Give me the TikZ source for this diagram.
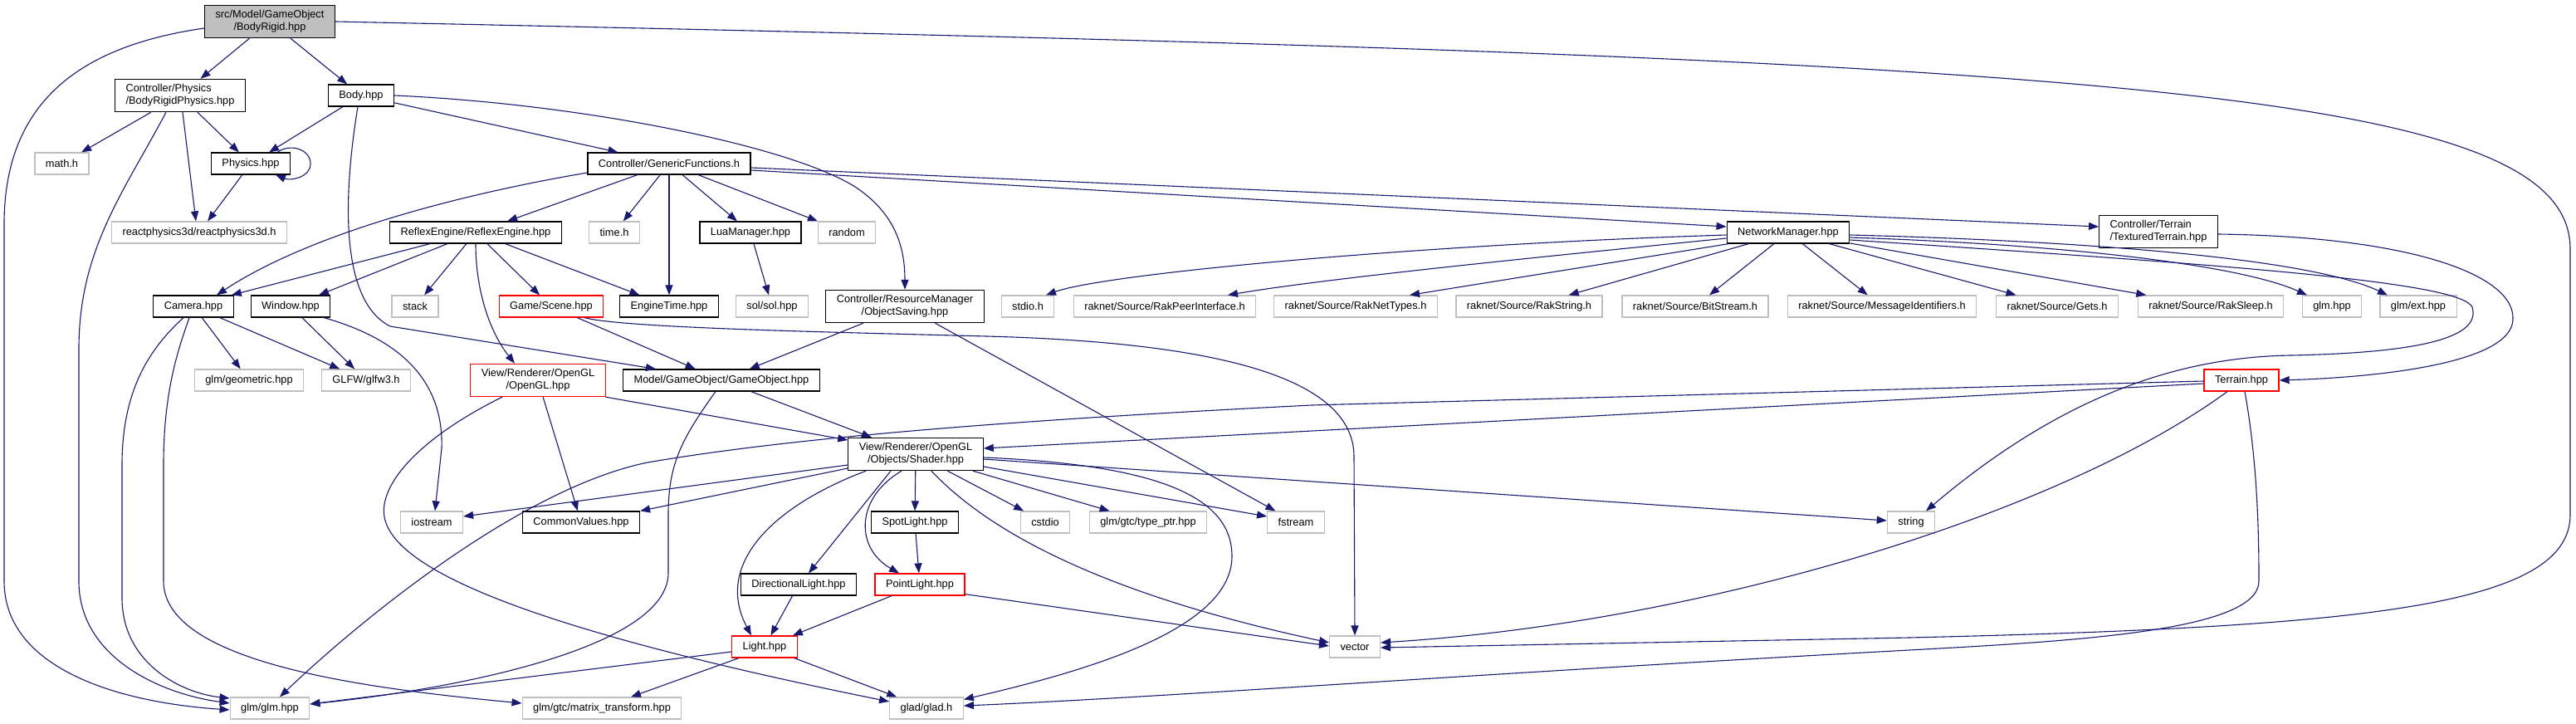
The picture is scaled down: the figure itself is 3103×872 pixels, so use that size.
\documentclass[tikz,border=0pt]{standalone}
\usepackage{fontspec}
\setsansfont{Liberation Sans}
\usepackage{xcolor}
\usepackage{tikz}
\usetikzlibrary{arrows.meta,positioning,calc}
\definecolor{navy}{HTML}{191970}
\definecolor{grey}{HTML}{BFBFBF}
\definecolor{cutred}{HTML}{FF0000}

\begin{document}
\begin{tikzpicture}[
  x=1pt,y=-1pt,
  every node/.style={font={\sffamily\fontsize{12.8}{15.3}\selectfont},align=center,inner xsep=13pt,inner ysep=6pt,minimum height=26pt,line width=1.2pt},
  hdr/.style={draw=black,fill=white},
  sys/.style={draw=grey,fill=white},
  cut/.style={draw=cutred,fill=white},
  top/.style={draw=black,fill=grey},
  arrow/.style={-{Triangle[length=12pt,width=9pt]},draw=navy,line width=1.1pt}
]
\fill[white] (0,0) rectangle (3103,872);
\useasboundingbox (0,0) rectangle (3103,872);

% rows of the include graph
\node[top] (root) at (325,26) {src/Model/GameObject\\/BodyRigid.hpp};
\node[hdr,align=left] (rbphys) at (217,115) {Controller/Physics\\/BodyRigidPhysics.hpp};
\node[hdr] (body) at (435,115) {Body.hpp};
\node[sys] (math) at (74.5,197) {math.h};
\node[hdr] (physics) at (302,197) {Physics.hpp};
\node[hdr] (generic) at (806,197) {Controller/GenericFunctions.h};
\node[sys] (react) at (240,280) {reactphysics3d/reactphysics3d.h};
\node[hdr] (reflex) at (573,280) {ReflexEngine/ReflexEngine.hpp};
\node[sys] (timeh) at (740,280) {time.h};
\node[hdr] (lua) at (904,280) {LuaManager.hpp};
\node[sys] (random) at (1020,280) {random};
\node[hdr] (netman) at (2154,280) {NetworkManager.hpp};
\node[hdr,align=left] (texterr) at (2600,279) {Controller/Terrain\\/TexturedTerrain.hpp};
\node[hdr] (camera) at (233,369) {Camera.hpp};
\node[hdr] (window) at (350,369) {Window.hpp};
\node[sys] (stack) at (500,369) {stack};
\node[cut] (scene) at (664,369) {Game/Scene.hpp};
\node[hdr] (enginetime) at (806,369) {EngineTime.hpp};
\node[sys] (sol) at (930,369) {sol/sol.hpp};
\node[hdr] (objsave) at (1090,369) {Controller/ResourceManager\\/ObjectSaving.hpp};
\node[sys] (stdio) at (1238,369) {stdio.h};
\node[sys] (rakpeer) at (1403,369) {raknet/Source/RakPeerInterface.h};
\node[sys] (raktypes) at (1633,369) {raknet/Source/RakNetTypes.h};
\node[sys] (rakstring) at (1842,369) {raknet/Source/RakString.h};
\node[sys] (bitstream) at (2042,369) {raknet/Source/BitStream.h};
\node[sys] (msgid) at (2267,369) {raknet/Source/MessageIdentifiers.h};
\node[sys] (gets) at (2478,369) {raknet/Source/Gets.h};
\node[sys] (raksleep) at (2663,369) {raknet/Source/RakSleep.h};
\node[sys] (glmhpp) at (2809,369) {glm.hpp};
\node[sys] (glmext) at (2913,369) {glm/ext.hpp};
\node[sys] (geometric) at (300,458) {glm/geometric.hpp};
\node[sys] (glfw) at (441,458) {GLFW/glfw3.h};
\node[cut] (opengl) at (648,458) {View/Renderer/OpenGL\\/OpenGL.hpp};
\node[hdr] (gameobj) at (869,458) {Model/GameObject/GameObject.hpp};
\node[cut] (terrain) at (2700,458) {Terrain.hpp};
\node[hdr] (shader) at (1103,547) {View/Renderer/OpenGL\\/Objects/Shader.hpp};
\node[sys] (iostream) at (520,629) {iostream};
\node[hdr] (common) at (700,629) {CommonValues.hpp};
\node[hdr] (spot) at (1102,629) {SpotLight.hpp};
\node[sys] (cstdio) at (1259,629) {cstdio};
\node[sys] (typeptr) at (1383,629) {glm/gtc/type\_ptr.hpp};
\node[sys] (fstream) at (1561,629) {fstream};
\node[sys] (string) at (2302,629) {string};
\node[hdr] (dirlight) at (962,704) {DirectionalLight.hpp};
\node[cut] (pointlight) at (1108,704) {PointLight.hpp};
\node[cut] (light) at (921,779) {Light.hpp};
\node[sys] (vector) at (1632,779) {vector};
\node[sys] (glm) at (325,853) {glm/glm.hpp};
\node[sys] (matrix) at (725,853) {glm/gtc/matrix\_transform.hpp};
\node[sys] (glad) at (1116,853) {glad/glad.h};

% root
\draw[arrow] (root) -- (rbphys); \draw[arrow] (root) -- (body);
\draw[arrow] ([yshift=-8pt]root.west) .. controls (100,55) and (5,120) .. (5,270) -- (5,700) .. controls (5,800) and (130,845) .. ([yshift=-2pt]glm.west);
\draw[arrow] (root.east) .. controls (2500,70) and (3096,100) .. (3096,300) -- (3096,620) .. controls (3096,730) and (2850,755) .. (2300,768) -- ([yshift=-1pt]vector.east);

% physics side
\draw[arrow] (rbphys) -- (math); \draw[arrow] (rbphys) -- (physics);
\draw[arrow] ([xshift=3pt]rbphys.south) -- ([xshift=-4pt]react.north);
\draw[arrow] ([xshift=-17pt]rbphys.south) .. controls (150,230) and (95,300) .. (95,420) -- (95,700) .. controls (95,790) and (190,835) .. ([yshift=6pt]glm.west);
\draw[arrow] ([xshift=32pt]physics.north) .. controls (350,172) and (374,180) .. (374,197) .. controls (374,214) and (350,218) .. ([xshift=30pt]physics.south);
\draw[arrow] (physics) -- (react);

% body
\draw[arrow] (body) -- (physics); \draw[arrow] (body) -- (generic);
\draw[arrow] (body.east) .. controls (700,125) and (950,175) .. (1030,225) .. controls (1080,258) and (1090,300) .. (objsave.north);
\draw[arrow] ([xshift=-4pt]body.south) .. controls (416,220) and (405,360) .. (470,393) -- ([xshift=-79pt]gameobj.north);

% generic functions
\draw[arrow] ([yshift=-11pt]generic.west) .. controls (520,240) and (360,290) .. ([xshift=28pt]camera.north);
\draw[arrow] (generic) -- (reflex); \draw[arrow] (generic) -- (timeh); \draw[arrow] (generic) -- (enginetime);
\draw[arrow] (generic) -- (lua); \draw[arrow] (generic) -- (random);
\draw[arrow] ([yshift=-8pt]generic.east) -- ([yshift=7pt]netman.west);
\draw[arrow] ([yshift=-5pt]generic.east) -- ([yshift=6pt]texterr.west);

% reflex engine
\draw[arrow] ([xshift=-55pt]reflex.south) -- ([xshift=-3pt]camera.north east);
\draw[arrow] (reflex) -- (window); \draw[arrow] (reflex) -- (stack);
\draw[arrow] (reflex) -- (scene); \draw[arrow] (reflex) -- (enginetime);
\draw[arrow] (reflex.south) .. controls (573,350) and (590,400) .. ([xshift=-28pt]opengl.north);
\draw[arrow] (lua) -- (sol);

% network manager
\draw[arrow] ([yshift=-3pt]netman.west) .. controls (1700,295) and (1330,330) .. ([xshift=22pt]stdio.north);
\draw[arrow] ([yshift=-7pt]netman.west) .. controls (1850,310) and (1600,335) .. ([xshift=76pt]rakpeer.north);
\draw[arrow] ([xshift=3pt]netman.south west) -- ([xshift=65pt]raktypes.north);
\draw[arrow] (netman) -- (rakstring); \draw[arrow] (netman) -- (bitstream);
\draw[arrow] (netman) -- (msgid); \draw[arrow] (netman) -- (gets); \draw[arrow] (netman) -- (raksleep);
\draw[arrow] ([yshift=-6pt]netman.east) .. controls (2500,295) and (2700,320) .. ([xshift=-30pt]glmhpp.north);
\draw[arrow] ([yshift=-3pt]netman.east) .. controls (2500,290) and (2780,310) .. ([xshift=-37pt]glmext.north);
\draw[arrow] ([yshift=-9pt]netman.east) .. controls (2700,320) and (2965,340) .. (2978,370) .. controls (2990,410) and (2900,425) .. (2760,428) .. controls (2620,430) and (2480,480) .. ([xshift=18pt]string.north);
\draw[arrow] ([yshift=-3pt]texterr.east) .. controls (2900,285) and (3030,330) .. (3027,385) .. controls (3025,440) and (2850,455) .. (terrain.east);

% camera, window, scene
\draw[arrow] ([xshift=-12pt]camera.south) .. controls (180,420) and (147,470) .. (147,560) -- (147,720) .. controls (147,800) and (220,835) .. ([yshift=12pt]glm.west);
\draw[arrow] ([xshift=-5pt]camera.south) .. controls (215,420) and (197,470) .. (197,560) -- (197,700) .. controls (197,800) and (450,830) .. ([yshift=6pt]matrix.west);
\draw[arrow] (camera) -- (geometric); \draw[arrow] (camera) -- (glfw);
\draw[arrow] (window) -- (glfw);
\draw[arrow] ([xshift=40pt]window.south) .. controls (470,405) and (535,450) .. (532,540) -- ([xshift=4pt]iostream.north);
\draw[arrow] (scene) -- (gameobj);
\draw[arrow] ([xshift=40pt]scene.south) .. controls (750,395) and (1000,400) .. (1188,405) .. controls (1450,412) and (1631,450) .. (1631,550) -- (vector.north);
\draw[arrow] (objsave) -- (gameobj); \draw[arrow] (objsave) -- (fstream);

% opengl and game object
\draw[arrow] (opengl.south east) -- ([yshift=17pt]shader.west);
\draw[arrow] (opengl) -- (common);
\draw[arrow] ([xshift=-43pt]opengl.south) .. controls (500,530) and (450,590) .. (465,630) .. controls (490,700) and (700,770) .. ([yshift=8pt]glad.west);
\draw[arrow] (gameobj) -- (shader);
\draw[arrow] ([xshift=-7pt]gameobj.south) .. controls (820,530) and (805,560) .. (805,620) -- (805,690) .. controls (805,780) and (550,830) .. ([yshift=5pt]glm.east);

% shader
\draw[arrow] ([yshift=-13pt]shader.west) -- ([yshift=7pt]iostream.east);
\draw[arrow] ([yshift=-17pt]shader.west) -- (common.north east);
\draw[arrow] ([xshift=-60pt]shader.south) .. controls (930,610) and (860,680) .. ([xshift=-16pt]light.north);
\draw[arrow] ([xshift=-30pt]shader.south) -- ([xshift=12pt]dirlight.north);
\draw[arrow] ([xshift=-17pt]shader.south) .. controls (1030,600) and (1030,660) .. ([xshift=-25pt]pointlight.north);
\draw[arrow] (shader) -- (spot);
\draw[arrow] ([xshift=19pt]shader.south) .. controls (1200,650) and (1350,720) .. ([yshift=5pt]vector.west);
\draw[arrow] (shader) -- (cstdio); \draw[arrow] (shader) -- (typeptr);
\draw[arrow] ([yshift=-15pt]shader.east) -- ([yshift=7pt]fstream.west);
\draw[arrow] ([yshift=-6pt]shader.east) -- ([yshift=2pt]string.west);
\draw[arrow] ([yshift=-4pt]shader.east) .. controls (1400,560) and (1484,600) .. (1484,670) .. controls (1484,760) and (1300,810) .. ([yshift=-3pt]glad.north east);

% lights
\draw[arrow] (spot) -- (pointlight);
\draw[arrow] (dirlight) -- (light); \draw[arrow] (pointlight) -- (light);
\draw[arrow] ([yshift=2pt]pointlight.south east) -- ([yshift=1pt]vector.west);
\draw[arrow] ([yshift=-6pt]light.west) -- ([yshift=5pt]glm.east);
\draw[arrow] ([xshift=-31pt]light.south) -- ([xshift=35pt]matrix.north);
\draw[arrow] (light) -- (glad);

% terrain
\draw[arrow] ([yshift=-4pt]terrain.west) -- ([yshift=7pt]shader.east);
\draw[arrow] ([yshift=-1pt]terrain.west) -- (1580,488) .. controls (1200,507) and (950,528) .. (780,557) .. controls (620,590) and (420,760) .. ([xshift=12pt]glm.north);
\draw[arrow] ([xshift=-17pt]terrain.south) .. controls (2480,620) and (2050,750) .. ([yshift=5pt]vector.east);
\draw[arrow] ([xshift=4pt]terrain.south) .. controls (2720,560) and (2721,650) .. (2721,700) .. controls (2721,760) and (2500,772) .. (2300,783) .. controls (1800,810) and (1400,840) .. ([yshift=3pt]glad.east);
\end{tikzpicture}
\end{document}
